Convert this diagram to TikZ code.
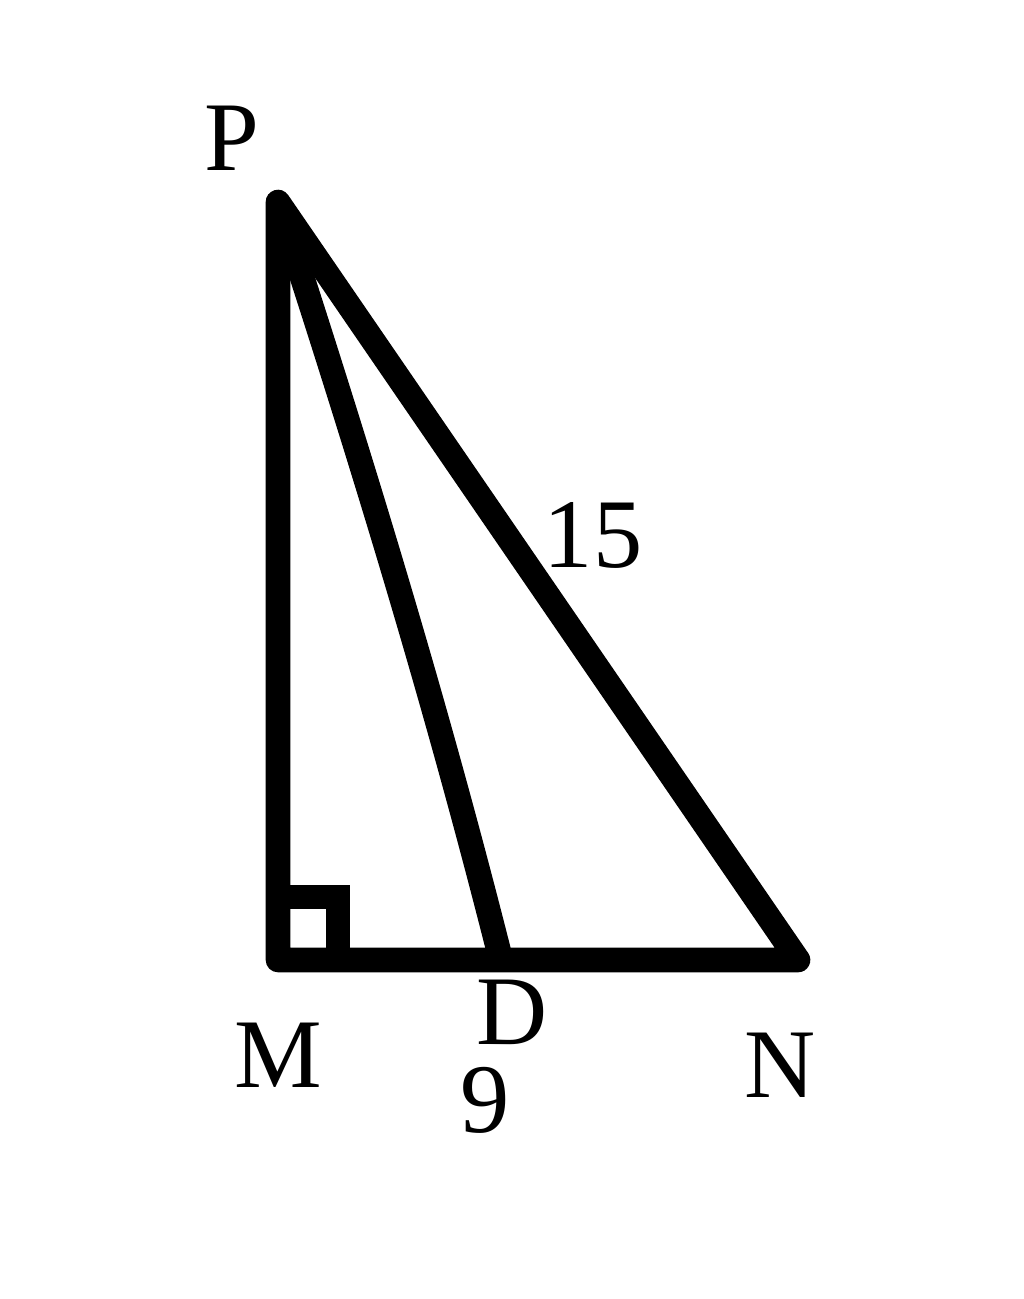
\documentclass[tikz,border=0pt]{standalone}
\usepackage{fontspec}
\setmainfont{Liberation Serif}
\begin{document}
\begin{tikzpicture}[x=0.01cm,y=-0.01cm,
  edge/.style={line width=7pt,line join=round,line cap=round},
  lbl/.style={inner sep=0pt,font=\fontsize{28}{32}\selectfont}]
\useasboundingbox (0,0) rectangle (1024,1299);
\coordinate (P) at (278,202);
\coordinate (M) at (278,960);
\coordinate (N) at (798,960);
\coordinate (D) at (501,960);
\coordinate (Q) at (281,212);
\draw[edge] (M) -- (P) -- (N) -- cycle;
\draw[edge,line cap=butt] (Q) .. controls (365,470) and (438,710) .. (D);
\draw[line width=6.8pt,line join=miter] (278,897) -- (338,897) -- (338,960);
\node[lbl] (lP) at (232,138) {P};
\node[lbl] (l15) at (593,535) {15};
\node[lbl] (lM) at (278,1055) {M};
\node[lbl] (lD) at (512,1012) {D};
\node[lbl] (l9) at (485,1100) {9};
\node[lbl] (lN) at (780,1065) {N};
\end{tikzpicture}
\end{document}
